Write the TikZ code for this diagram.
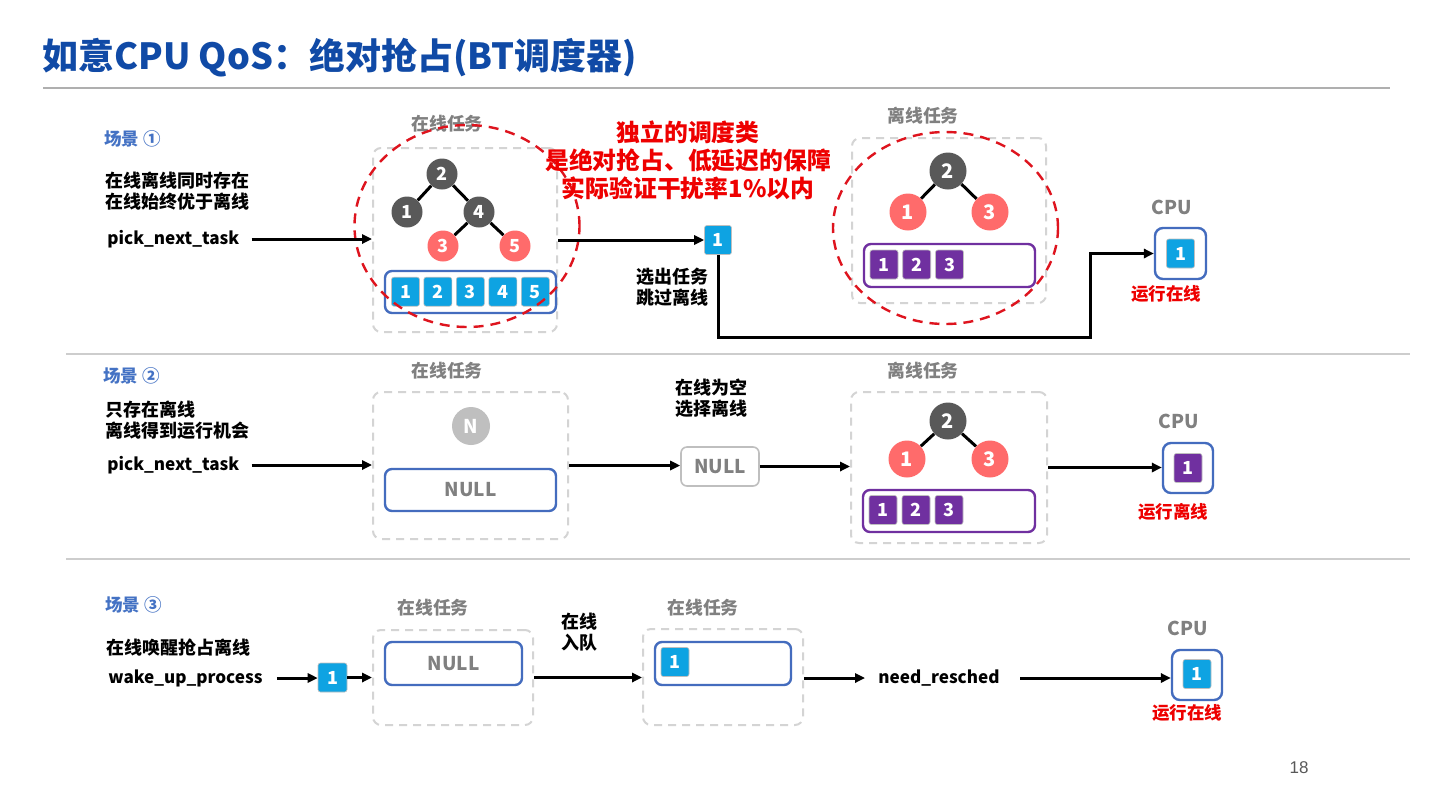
\documentclass[tikz,border=0pt]{standalone}
\usepackage{fontspec}
\setmainfont{Noto Sans CJK SC}
\newfontfamily\numfont{Liberation Sans}
\usetikzlibrary{arrows.meta,shapes.geometric}
\definecolor{titleblue}{RGB}{16,74,166}
\definecolor{scnblue}{RGB}{68,114,196}
\definecolor{boxblue}{RGB}{68,108,190}
\definecolor{lblgray}{RGB}{128,128,128}
\definecolor{dashgray}{RGB}{212,212,212}
\definecolor{rulegray}{RGB}{175,175,175}
\definecolor{sepgray}{RGB}{205,205,205}
\definecolor{darknode}{RGB}{89,89,89}
\definecolor{pinknode}{RGB}{255,107,107}
\definecolor{sqblue}{RGB}{14,163,226}
\definecolor{sqpurple}{RGB}{112,48,160}
\definecolor{redtxt}{RGB}{238,0,0}
\definecolor{redell}{RGB}{222,20,30}
\definecolor{nullgray}{RGB}{191,191,191}
\begin{document}
\begin{tikzpicture}[x=0.5pt,y=-0.5pt,
  txt/.style={inner sep=0pt, font=\fontsize{9}{10.5}\selectfont\bfseries, align=left},
  code/.style={inner sep=0pt, font=\fontsize{8.55}{10}\selectfont\bfseries},
  scn/.style={inner sep=0pt, font=\fontsize{8.75}{10}\selectfont\bfseries, text=scnblue},
  lbl/.style={inner sep=0pt, font=\fontsize{8.9}{10}\selectfont\bfseries, text=lblgray},
  runtxt/.style={inner sep=0pt, font=\fontsize{8.75}{10}\selectfont\bfseries, text=redtxt},
  dbox/.style={draw=dashgray, line width=1pt, dash pattern=on 4pt off 3pt, rounded corners=4pt},
  bbox/.style={draw=boxblue, line width=1.2pt, rounded corners=3.5pt, fill=white},
  pbox/.style={draw=sqpurple, line width=1.2pt, rounded corners=3.5pt, fill=white},
  cpubox/.style={draw=boxblue, line width=1.2pt, rounded corners=4pt, minimum size=25.5pt},
  tnode/.style={circle, inner sep=0pt, text=white, font=\fontsize{9}{10}\selectfont\bfseries},
  dk/.style={tnode, fill=darknode, minimum size=15.5pt},
  rd/.style={tnode, fill=pinknode, minimum size=15.5pt},
  dkb/.style={tnode, fill=darknode, minimum size=18.5pt, font=\fontsize{10}{11}\selectfont\bfseries},
  rdb/.style={tnode, fill=pinknode, minimum size=18.5pt, font=\fontsize{10}{11}\selectfont\bfseries},
  sq/.style={rectangle, rounded corners=1.2pt, inner sep=0pt, minimum width=14pt, minimum height=14.5pt,
     text=white, font=\fontsize{9}{10}\selectfont\bfseries, draw=black!25, line width=0.3pt},
  sqb/.style={sq, fill=sqblue},
  sqp/.style={sq, fill=sqpurple},
  edge/.style={line width=1.5pt, black},
  arr/.style={line width=1.5pt, black, -{Triangle[length=5pt,width=4.6pt]}},
  ell/.style={ellipse, draw=redell, line width=1.2pt, dash pattern=on 5pt off 3.5pt, inner sep=0pt},
  nulltxt/.style={text=lblgray, font=\fontsize{9.5}{10}\selectfont\bfseries}
]
\useasboundingbox (0,0) rectangle (1440,810);
\fill[white] (0,0) rectangle (1440,810);

% ---------- title ----------
\node[anchor=west, inner sep=0pt, text=titleblue, font=\fontsize{18}{20}\selectfont\bfseries] (title) at (42,58) {如意CPU QoS：绝对抢占(BT调度器)};
\draw[rulegray, line width=0.8pt] (43,88) -- (1390,88);
\draw[sepgray, line width=0.6pt] (66,354) -- (1410,354);
\draw[sepgray, line width=0.6pt] (66,559) -- (1410,559);

% ---------- scenario 1 ----------
\node[scn, anchor=west] (s1) at (104,139) {场景 ①};
\node[txt, anchor=west] (d1) at (105,191.5) {在线离线同时存在\\在线始终优于离线};
\node[code, anchor=west] (p1) at (107,239) {pick\_next\_task};

\node[dbox, minimum width=92pt, minimum height=92pt] (on1) at (465,240) {};
\node[lbl] (on1l) at (447,124) {在线任务};
\node[dk] (a2) at (442,174) {2};
\node[dk] (a1) at (407,212) {1};
\node[dk] (a4) at (479,212) {4};
\node[rd] (a3) at (443,246) {3};
\node[rd] (a5) at (515,246) {5};
\draw[edge] (a2) -- (a1);
\draw[edge] (a2) -- (a4);
\draw[edge] (a4) -- (a3);
\draw[edge] (a4) -- (a5);
\node[bbox, minimum width=85.5pt, minimum height=21pt] (l1) at (470.5,292) {};
\node[sqb] (q11) at (405.5,291.7) {1};
\node[sqb] (q12) at (437.8,291.7) {2};
\node[sqb] (q13) at (470.3,291.7) {3};
\node[sqb] (q14) at (502.8,291.7) {4};
\node[sqb] (q15) at (535.3,291.7) {5};
\node[ell, minimum width=112.5pt, minimum height=101pt] (e1) at (467,226) {};

\draw[arr] ([xshift=6pt]p1.east) -- (p1.east -| on1.west);
\node[sqb, minimum height=14.5pt, minimum width=13.5pt] (m1) at (718,240) {1};
\draw[arr] (on1.east) -- (m1.west);
\node[txt, anchor=west] (sel) at (636,287) {选出任务\\跳过离线};

\node[inner sep=0pt, align=center, text=redtxt, font=\fontsize{11.9}{14}\selectfont\bfseries] (red) at (688,160) {独立的调度类\\是绝对抢占、低延迟的保障\\实际验证干扰率1\%以内};

\node[dbox, minimum width=97pt, minimum height=82.5pt] (off1) at (949,220.5) {};
\node[lbl] (off1l) at (923,116) {离线任务};
\node[dkb] (b2) at (948,171) {2};
\node[rdb] (b1) at (908,212) {1};
\node[rdb] (b3) at (990,212) {3};
\draw[edge] (b2) -- (b1);
\draw[edge] (b2) -- (b3);
\node[pbox, minimum width=85.5pt, minimum height=21.5pt] (pl1) at (949.5,265.5) {};
\node[sqp] (r11) at (884,264.5) {1};
\node[sqp] (r12) at (916.7,264.5) {2};
\node[sqp] (r13) at (949.5,264.5) {3};
\node[ell, minimum width=112.5pt, minimum height=96pt] (e2) at (945.5,228) {};

\node[lbl, font=\fontsize{9.5}{10}\selectfont\bfseries] (cpu1l) at (1172,207) {CPU};
\node[cpubox] (cpu1) at (1180.5,253.5) {};
\node[sqb] (c1) at (1180.5,253.5) {1};
\node[runtxt] (run1) at (1166,294) {运行在线};
\coordinate (t1) at (1090,337);
\draw[line width=1.5pt, black, -{Triangle[length=5pt,width=4.6pt]}, line join=miter] (m1.south) |- (t1) |- (cpu1.west);

% ---------- scenario 2 ----------
\node[scn, anchor=west] (s2) at (103,376) {场景 ②};
\node[txt, anchor=west] (d2) at (105,420) {只存在离线\\离线得到运行机会};
\node[code, anchor=west] (p2) at (107,465) {pick\_next\_task};

\node[dbox, minimum width=97.5pt, minimum height=73.5pt] (on2) at (470.5,465.5) {};
\node[lbl] (on2l) at (447,371) {在线任务};
\node[tnode, fill=nullgray, minimum size=19pt, font=\fontsize{9.5}{10}\selectfont\bfseries] (nn) at (471,426) {N};
\node[bbox, nulltxt, minimum width=85.5pt, minimum height=21pt] (nb2) at (470.5,490) {NULL};
\draw[arr] ([xshift=6pt]p2.east) -- (p2.east -| on2.west);

\node[draw=nullgray, line width=0.8pt, rounded corners=3pt, nulltxt, minimum width=39pt, minimum height=19.5pt, inner sep=0pt] (gb) at (720,466.5) {NULL};
\node[txt, align=center] (emp) at (711,398.5) {在线为空\\选择离线};
\draw[arr] (on2.east) -- (on2.east -| gb.west);

\node[dbox, minimum width=98pt, minimum height=75.5pt] (off2) at (949,467.5) {};
\node[lbl] (off2l) at (923,371) {离线任务};
\node[dkb] (c2n) at (948,421) {2};
\node[rdb] (c1n) at (907,459) {1};
\node[rdb] (c3n) at (990,459) {3};
\draw[edge] (c2n) -- (c1n);
\draw[edge] (c2n) -- (c3n);
\node[pbox, minimum width=86pt, minimum height=21pt] (pl2) at (949,511) {};
\node[sqp] (r21) at (883,510) {1};
\node[sqp] (r22) at (916,510) {2};
\node[sqp] (r23) at (949,510) {3};
\draw[arr] (gb.east) -- (gb.east -| off2.west);

\node[lbl, font=\fontsize{9.5}{10}\selectfont\bfseries] (cpu2l) at (1179,421) {CPU};
\node[cpubox, minimum size=25pt] (cpu2) at (1188,468) {};
\node[sqp] (c2) at (1188,468) {1};
\node[runtxt] (run2) at (1173,512) {运行离线};
\draw[arr] (off2.east) -- (off2.east -| cpu2.west);

% ---------- scenario 3 ----------
\node[scn, anchor=west] (s3) at (105,605) {场景 ③};
\node[txt, anchor=west] (d3) at (106,648) {在线唤醒抢占离线};
\node[code, anchor=west] (p3) at (108,678) {wake\_up\_process};
\node[sqb, minimum width=14.5pt] (w1) at (332.5,677.5) {1};
\draw[arr] ([xshift=7pt]p3.east) -- (p3.east -| w1.west);

\node[dbox, minimum width=80pt, minimum height=47.5pt] (on3) at (453,677.5) {};
\node[lbl] (on3l) at (433,608) {在线任务};
\node[bbox, nulltxt, minimum width=68.5pt, minimum height=21.5pt] (nb3) at (453.5,663.5) {NULL};
\draw[arr] (w1.east) -- (w1.east -| on3.west);

\node[txt, align=left] (enq) at (579,632) {在线\\入队};
\node[dbox, minimum width=80pt, minimum height=48pt] (on3b) at (723,677) {};
\node[lbl] (on3bl) at (703,608) {在线任务};
\node[bbox, minimum width=68pt, minimum height=21.5pt] (bb3) at (723,663.5) {};
\node[sqb] (v1) at (675,662) {1};
\draw[arr] (on3.east) -- (on3.east -| on3b.west);

\node[code, anchor=west] (nr) at (878,678) {need\_resched};
\draw[arr] (on3b.east |- nr.west) -- ([xshift=-6.5pt]nr.west);

\node[lbl, font=\fontsize{9.5}{10}\selectfont\bfseries] (cpu3l) at (1188,628) {CPU};
\node[cpubox, minimum size=25pt] (cpu3) at (1197,675) {};
\node[sqb] (c3) at (1197,674) {1};
\node[runtxt] (run3) at (1187,713) {运行在线};
\draw[arr] ([xshift=10pt]nr.east) -- (nr.east -| cpu3.west);

\node[inner sep=0pt, text=darknode, font=\numfont\fontsize{8.5}{10}\selectfont] (pg) at (1299,768) {18};
\end{tikzpicture}
\end{document}
